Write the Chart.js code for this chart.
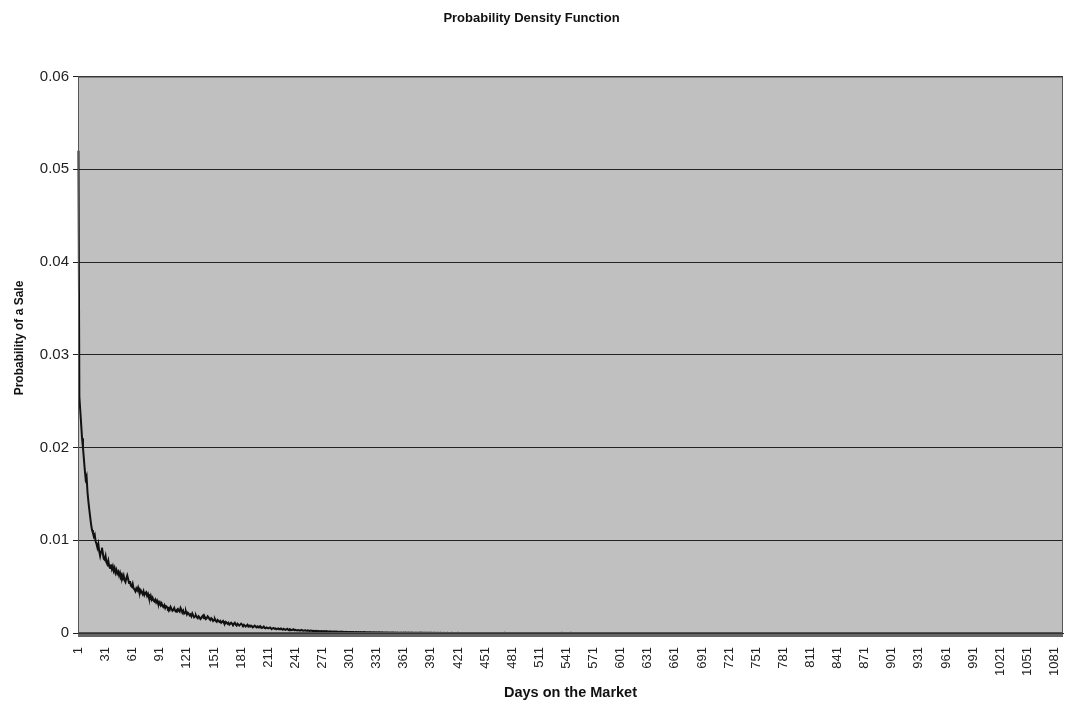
<!DOCTYPE html>
<html>
<head>
<meta charset="utf-8">
<title>Probability Density Function</title>
<script src="https://cdn.jsdelivr.net/npm/chart.js@4.4.1/dist/chart.umd.min.js"></script>
<style>
  html, body { margin: 0; padding: 0; background: #fff; }
  #wrap { width: 1065px; height: 707px; }
</style>
</head>
<body>
<div id="wrap"><canvas id="pdfChart"></canvas></div>
<script>
// labels printed under the x axis (one every 30 days)
const tickLabels = ['1', '31', '61', '91', '121', '151', '181', '211', '241', '271', '301', '331', '361',
  '391', '421', '451', '481', '511', '541', '571', '601', '631', '661', '691', '721', '751', '781',
  '811', '841', '871', '901', '931', '961', '991', '1021', '1051', '1081'];

// probability of a sale on each day, in units of 0.00001
const probDays1to100 = [
  5200, 2550, 2400, 2250, 2100, 2000, 1880, 1760, 1660, 1690,
  1520, 1420, 1330, 1250, 1170, 1110, 1080, 1040, 1060, 990,
  960, 920, 960, 880, 830, 880, 920, 860, 800, 790,
  830, 760, 740, 780, 720, 700, 740, 690, 720, 670,
  700, 650, 680, 640, 660, 620, 650, 610, 630, 590,
  620, 570, 550, 590, 620, 580, 540, 560, 510, 500,
  530, 480, 470, 450, 480, 460, 490, 450, 430, 460,
  440, 420, 450, 410, 430, 440, 400, 420, 380, 370,
  400, 360, 380, 350, 340, 360, 330, 350, 320, 310,
  330, 300, 320, 290, 280, 300, 270, 290, 280, 260
];
const probDays101to200 = [
  270, 250, 280, 260, 240, 250, 270, 240, 230, 250,
  260, 240, 230, 270, 250, 220, 240, 210, 220, 230,
  200, 220, 210, 190, 200, 180, 210, 190, 170, 180,
  190, 170, 160, 180, 170, 150, 160, 180, 190, 160,
  170, 150, 160, 180, 170, 150, 140, 160, 150, 130,
  140, 150, 130, 120, 140, 130, 120, 130, 110, 120,
  130, 110, 100, 120, 110, 100, 110, 90, 100, 110,
  100, 90, 100, 110, 90, 80, 100, 90, 80, 90,
  100, 90, 80, 90, 80, 70, 80, 90, 70, 80,
  70, 80, 70, 60, 70, 80, 70, 60, 70, 60
];
const probDays201to400 = [
  70, 60, 65, 55, 60, 70, 55, 50, 60, 55,
  50, 55, 60, 50, 45, 50, 55, 45, 50, 40,
  45, 50, 40, 45, 50, 40, 35, 45, 40, 35,
  40, 45, 35, 30, 40, 35, 30, 35, 40, 30,
  35, 30, 28, 32, 30, 26, 30, 33, 27, 25,
  28, 30, 25, 23, 27, 25, 22, 26, 24, 21,
  24, 22, 20, 23, 21, 19, 22, 20, 18, 21,
  19, 17, 20, 18, 16, 19, 17, 15, 18, 16,
  15, 17, 14, 16, 15, 13, 15, 14, 12, 14,
  13, 15, 12, 14, 12, 11, 13, 12, 10, 12,
  11, 12, 10, 11, 12, 10, 9, 11, 10, 9,
  10, 9, 11, 8, 9, 10, 8, 9, 8, 7,
  9, 8, 7, 8, 9, 7, 6, 8, 7, 6,
  7, 6, 7, 8, 6, 5, 7, 6, 5, 6,
  6, 5, 6, 5, 4, 6, 5, 4, 5, 5,
  4, 5, 4, 5, 4, 3, 4, 5, 4, 3,
  4, 3, 4, 3, 3, 4, 3, 2, 3, 4,
  3, 3, 2, 3, 3, 2, 3, 2, 2, 3,
  2, 3, 2, 2, 3, 2, 2, 2, 1, 2,
  2, 2, 1, 2, 2, 1, 2, 1, 2, 1
];
const probDays401to1090 = [
  1,2,1,1,2,1,1,1,2,1,1,1,1,2,1,1,1,1,1,1,2,1,1,1,1,1,0,1,1,1,
  1,1,0,1,1,1,1,0,1,1,1,1,0,1,1,0,1,1,1,0,1,1,0,1,1,1,0,1,0,1,
  1,0,1,1,0,1,0,1,1,0,1,0,1,0,1,1,0,1,0,0,1,0,1,0,1,0,0,1,0,1,
  0,1,0,0,1,0,1,0,0,1,0,0,1,0,0,1,0,0,0,1,0,0,1,0,0,0,1,0,0,1,
  0,0,0,1,0,0,1,0,0,0,0,1,0,0,0,1,0,0,0,0,1,0,0,0,0,1,0,0,0,0,
  0,1,0,0,0,0,1,0,0,0,0,0,1,0,0,0,0,0,0,1,0,0,0,0,0,0,0,1,0,0,
  0,0,0,0,1,0,0,0,0,0,0,0,0,0,0,1,0,0,0,0,0,0,0,0,0,0,0,0,1,0,
  0,0,0,0,0,0,0,0,0,1,0,0,0,0,0,0,0,0,0,0,0,0,0,0,0,1,0,0,0,0,
  0,0,0,0,0,0,0,0,0,0,0,0,0,0,1,0,0,0,0,0,0,0,0,0,0,0,0,0,0,0,
  0,0,0,0,0,0,1,0,0,0,0,0,0,0,0,0,0,0,0,0,0,0,0,0,0,0,0,0,0,0,
  0,0,0,0,0,0,0,0,0,0,0,0,0,0,0,0,0,0,0,0,0,0,1,0,0,0,0,0,0,0,
  0,0,0,0,0,0,0,0,0,0,0,0,0,0,0,0,0,0,0,0,0,0,0,0,0,0,0,0,0,0,
  0,0,0,0,0,0,0,0,0,0,0,0,0,0,0,0,0,0,0,0,0,0,0,0,0,0,0,0,0,0,
  0,0,0,0,0,0,0,0,0,0,0,0,0,0,0,0,0,0,0,0,0,0,0,0,0,0,0,0,0,0,
  0,0,0,0,0,0,0,0,0,0,0,0,0,0,0,0,0,0,0,0,0,0,0,0,0,0,0,0,0,0,
  0,0,0,0,0,0,0,0,0,0,0,0,0,0,0,0,0,0,0,0,0,0,0,0,0,0,0,0,0,0,
  0,0,0,0,0,0,0,0,0,0,0,0,0,0,0,0,0,0,0,0,0,0,0,0,0,0,0,0,0,0,
  0,0,0,0,0,0,0,0,0,0,0,0,0,0,0,0,0,0,0,0,0,0,0,0,0,0,0,0,0,0,
  0,0,0,0,0,0,0,0,0,0,0,0,0,0,0,0,0,0,0,0,0,0,0,0,0,0,0,0,0,0,
  0,0,0,0,0,0,0,0,0,0,0,0,0,0,0,0,0,0,0,0,0,0,0,0,0,0,0,0,0,0,
  0,0,0,0,0,0,0,0,0,0,0,0,0,0,0,0,0,0,0,0,0,0,0,0,0,0,0,0,0,0,
  0,0,0,0,0,0,0,0,0,0,0,0,0,0,0,0,0,0,0,0,0,0,0,0,0,0,0,0,0,0,
  0,0,0,0,0,0,0,0,0,0,0,0,0,0,0,0,0,0,0,0,0,0,0,0,0,0,0,0,0,0
];

const FONT = '"Liberation Sans", Arial, sans-serif';
const Y_TITLE = 'Probability of a Sale';

document.addEventListener('DOMContentLoaded', function() {
    // join the pieces and convert back to probabilities
    const probability = probDays1to100.concat(probDays101to200, probDays201to400, probDays401to1090)
        .map(v => v / 100000);
    // one category per day on the market
    const days = probability.map((v, i) => String(i + 1));

    // grey plot area, its frame, and the y axis title (which sits a bit above centre in the original)
    const plotBackground = {
        id: 'plotBackground',
        beforeDraw(chart) {
            const { ctx, chartArea: a } = chart;
            ctx.save();
            ctx.fillStyle = '#c0c0c0';
            ctx.fillRect(a.left, a.top, a.width, a.height);
            ctx.restore();
        },
        afterDraw(chart) {
            const { ctx, chartArea: a } = chart;
            ctx.save();
            ctx.strokeStyle = '#555';
            ctx.lineWidth = 1;
            ctx.strokeRect(a.left + 0.5, a.top + 0.5, a.width - 1, a.height - 1);

            ctx.translate(20, 338);
            ctx.rotate(-Math.PI / 2);
            ctx.fillStyle = '#111';
            ctx.font = 'bold 12px ' + FONT;
            ctx.textAlign = 'center';
            ctx.textBaseline = 'middle';
            ctx.fillText(Y_TITLE, 0, 0);
            ctx.restore();
        }
    };

    new Chart(document.getElementById('pdfChart'), {
        type: 'line',
        data: {
            labels: days,
            datasets: [{
                label: Y_TITLE,
                data: probability,
                borderColor: '#111',
                borderWidth: 2,
                pointRadius: 0,
                tension: 0,
                fill: false
            }]
        },
        options: {
            responsive: true,
            maintainAspectRatio: false,
            animation: false,
            layout: { padding: { left: 0, right: 2, top: 0, bottom: 0 } },
            plugins: {
                legend: { display: false },
                tooltip: { enabled: false },
                title: {
                    display: true,
                    text: 'Probability Density Function',
                    color: '#111',
                    font: { family: FONT, size: 13, weight: 'bold' },
                    padding: { top: 11, bottom: 50 }
                }
            },
            scales: {
                x: {
                    type: 'category',
                    offset: true,
                    grid: { drawOnChartArea: false, drawTicks: true, tickLength: 4, color: '#666' },
                    border: { color: '#333' },
                    ticks: {
                        autoSkip: false,
                        maxRotation: 90,
                        minRotation: 90,
                        padding: 10,
                        color: '#222',
                        font: { family: FONT, size: 13 },
                        callback: function(value) {
                            const label = this.getLabelForValue(value);
                            return tickLabels.includes(label) ? label : '';
                        }
                    },
                    title: {
                        display: true,
                        text: 'Days on the Market',
                        color: '#111',
                        font: { family: FONT, size: 14.5, weight: 'bold' },
                        padding: { top: 4, bottom: 5 }
                    },
                    afterFit: function(scale) {
                        scale.height = 74;
                        scale.paddingLeft = 0;
                        scale.paddingRight = 0;
                    }
                },
                y: {
                    min: 0,
                    max: 0.06,
                    grid: { color: '#222', tickLength: 5 },
                    border: { color: '#333' },
                    ticks: {
                        stepSize: 0.01,
                        padding: 4,
                        color: '#222',
                        font: { family: FONT, size: 15 }
                    },
                    afterFit: function(scale) {
                        scale.width = 78;
                        scale.paddingTop = 0;
                        scale.paddingBottom = 0;
                    }
                }
            }
        },
        plugins: [plotBackground]
    });
});
</script>
</body>
</html>
